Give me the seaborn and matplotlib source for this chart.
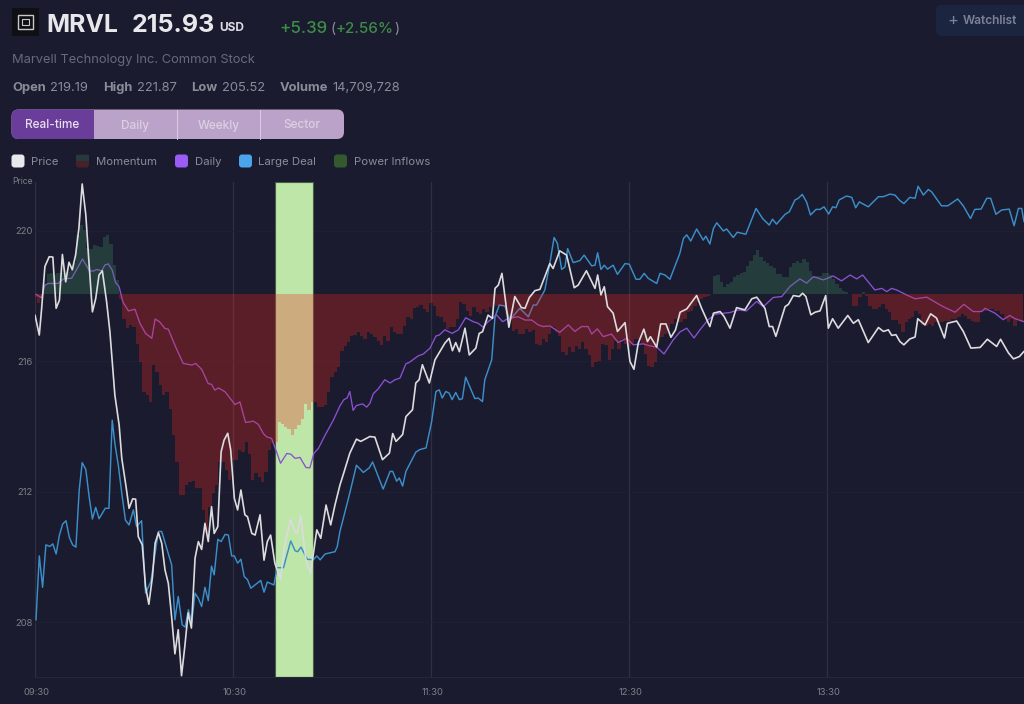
import matplotlib
matplotlib.use("Agg")
import matplotlib.pyplot as plt
from matplotlib.patches import FancyBboxPatch, Rectangle
from matplotlib.transforms import ScaledTranslation
import numpy as np
import pandas as pd
import seaborn as sns

# ---------- data ----------
price_t = [0,1.3,2,3,4.3,5.4,6.4,7.4,8.3,9.3,10.3,11.3,12.3,13.3,14.3,15.4,16.2,17.4,18.4,19.4,20.4,21.7,22.7,24.2,25.5,
26.3,27.6,28.5,29.6,30.5,31.3,32.5,33.5,34.5,35.6,36.4,37.4,38.4,39.4,40.4,41.4,42.4,43.4,44.4,45.4,46.4,47.4,48.5,49.5,50.5,51.5,52.5,53.5,54.3,55.4,56.4,57.3,58.4,59.3,60.4,61.4,62.4,63.6,64.4,65.7,66.7,68.2,69.4,70.4,71.4,72.7,74.4,75.8,77.4,78.8,79.5,80.5,82.1,83.5,85.4,86.6,88.2,89.6,90.9,92.4,
93.4,95.4,97.4,98.7,101.5,103,105.3,107.4,108.4,109.4,111.4,112.4,114.4,115.4,116.4,117.4,119.5,121.2,122.5,124.2,125.5,126.5,127.5,128.6,130.3,131.6,133.6,134.6,135.6,137.3,138.6,139.4,140.4,141.5,142.4,143.6,145.4,147.4,148.5,149.8,151.5,153,154.5,156,157,159,161.1,163.4,164.6,167.1,169.7,170.5,171.5,172.5,173.5,175.2,176.5,178.8,180.3,181.5,182.8,184.5,185.6,186.5,188.4,189.6,191.2,192.7,194.1,195.5,
197.5,200.5,202,204.5,205.6,207.6,208.8,210.6,212.6,215.1,217.2,218.7,221.2,222.5,223.5,224.5,227.3,228.3,229.8,231.6,232.6,233.6,235.1,236.4,237.9,239.6,240.4,241.7,243.4,246.3,248,249.5,252.5,253.8,255.6,257.1,258.6,259.6,260.9,262.1,263.3,265.1,266.7,267.5,269.7,271.4,273.2,275.6,276.5,279.3,281.3,283.6,286.4,288.6,291.4,292.6,295,296.5,298.3,299.7]
price_v = [217.41,216.8,217.6,218.9,219.2,219.19,217.62,217.87,219.27,218.43,219.03,218.8,219.25,220.07,221.43,220.48,219.25,217.51,217.92,218.64,218.77,217.82,216.9,214.96,214.04,
213.02,212.15,211.49,211.78,211.77,210.62,210.37,209.09,208.55,209.4,210.42,210.74,210.42,209.6,209.19,208.17,207.03,207.77,206.36,207.26,208.28,207.82,209.96,210.47,210.23,211.03,210.47,211.54,210.72,210.93,213.22,213.58,213.79,213.28,211.8,211.44,212.05,211.29,211.23,210.72,210.67,211.29,209.9,210.47,210.67,209.8,209.32,210.43,211.15,210.78,210.74,211.26,209.91,209.5,210.83,210.57,211.59,210.98,211.59,212.2,
212.52,213.18,213.61,213.54,213.69,213.67,212.98,213.18,213.78,213.54,213.75,214.3,214.51,215.33,215.43,215.89,215.33,216.04,216.26,216.55,216.7,216.32,216.57,216.29,217.01,216.19,216.4,216.85,216.9,217.41,217.31,218.23,218.33,218.69,217.98,217.04,217.98,217.64,217.62,217.95,218.16,218.2,218.59,218.99,218.84,219.38,219.25,218.25,218.33,218.77,218.23,218.64,218.03,218.28,217.67,217.47,216.91,217.18,215.99,215.75,216.55,216.98,216.6,216.75,216.43,217.14,217.14,216.73,216.96,217.5,
217.6,218.01,217.62,217.06,217.47,217.52,217.37,217.01,217.64,217.57,217.91,217.96,217.62,217.06,217.06,216.76,217.67,217.74,218.01,217.98,218.08,217.98,217.42,217.5,217.54,218.01,217.01,217.3,217.01,217.4,217.16,217.27,216.57,216.76,217.03,216.91,216.96,216.79,216.81,216.6,216.5,216.68,216.74,217.3,217.11,217.45,217.32,216.71,217.16,217.23,216.91,216.4,216.42,216.67,216.45,216.67,216.25,216.07,216.14,216.3]

deal_t = [0.3,1.3,2.3,3.3,4.5,5.4,6.4,7.4,8.4,9.4,10.4,11.4,12.4,13.4,14.3,15.4,16.4,17.4,18.4,19.4,21.3,22.4,23.4,24.2,25.3,26.3,27.4,28.5,29.8,30.8,32.3,33.5,35.1,37.4,38.4,41.4,42.4,43.4,44.6,45.5,46.5,47.5,48.5,49.5,50.5,51.5,52.5,53.5,54.3,55.4,56.4,57.6,58.6,59.6,60.4,61.4,62.4,63.4,64.4,65.4,68.4,69.4,70.4,72.4,73.4,75.3,77.5,78.8,79.6,80.6,82.5,84.3,85.4,86.4,87.9,90.9,91.6,92.4,
94.9,95.9,97.4,99.5,101.3,102.3,105.5,107.6,108.4,109.6,110.4,111.4,112.4,115.4,116.6,118.5,120.2,121.5,122.5,123.4,124.5,125.5,126.4,127.5,128.6,129.5,130.5,133.3,134.3,135.6,136.3,138.4,139.4,140.7,142.4,143.9,146.9,149.5,151,152,154.5,156,157.3,158.3,159.6,160.6,161.4,163.1,165.1,166.4,168.7,169.7,170.5,171.5,172.5,173.5,175.2,176.5,178.8,180.1,182.1,183.3,184.6,185.8,188.4,189.4,190.9,192.4,195.4,
196.5,197.5,198.7,200.5,202.5,203.3,204.5,205.6,206.6,208.6,209.6,211.6,212.8,215.4,218.5,220.5,222.5,223.5,224.7,227.3,228.6,230.3,231.3,232.5,233.8,235,236.7,237.9,239.1,240.5,241.7,242.7,243.7,245.9,247.5,248.7,249.8,252.5,255.6,257.1,259.1,260.6,262.1,263.3,265.1,266.7,267.6,269.2,270.7,271.7,274.7,276.6,279.6,281.3,283.5,284.8,286.7,288.4,289.6,291.2,292.9,295.2,296.7,298,299,299.7]
deal_v = [208.07,210.03,209.07,210.37,210.32,210.4,210.09,210.67,211.01,211.11,210.6,210.37,210.3,212.05,212.89,212.68,211.85,211.16,211.52,211.17,211.49,211.49,214.19,213.48,212.77,211.95,211.13,210.98,211.44,210.93,211.11,208.89,209.24,210.78,210.78,209.76,208.07,208.79,207.92,207.85,208.38,208.0,208.89,208.73,208.48,209.07,208.66,209.72,209.45,210.54,210.47,210.69,210.67,210.03,210.03,209.81,209.93,209.4,209.3,209.04,209.28,208.92,209.23,209.14,209.67,209.67,210.49,210.19,210.16,210.3,209.93,209.91,210.03,209.91,210.09,210.16,210.32,210.78,
211.76,212.17,212.81,212.59,212.73,212.91,212.08,212.62,212.62,212.32,212.42,212.17,212.62,213.21,213.29,213.34,214.15,215.07,215.12,214.87,215.07,215.02,214.82,215.04,214.82,214.85,215.51,214.85,214.87,214.76,215.43,216.04,217.36,217.72,217.69,217.26,217.62,217.36,217.72,217.72,218.18,218.99,219.79,219.61,218.81,218.89,219.45,219.02,219.08,219.25,218.92,218.94,219.32,218.81,218.94,218.82,218.94,218.66,218.99,218.97,218.51,218.51,218.69,218.54,218.38,218.69,218.64,218.51,219.3,
219.76,219.87,219.68,220.05,219.71,219.83,219.59,220.07,220.24,219.99,220.05,219.79,219.95,219.89,220.68,220.37,220.17,220.35,220.2,220.5,220.58,220.94,220.99,221.11,220.88,220.48,220.65,220.65,220.73,220.51,220.73,220.7,220.94,221.06,221.02,220.7,220.88,220.73,221.04,221.04,221.12,221.09,220.92,220.83,221.02,220.99,221.36,221.09,221.26,221.19,220.76,220.76,220.97,220.76,220.37,220.65,220.66,220.99,220.99,220.5,220.63,220.66,220.15,220.68,220.68,220.27]

daily_t = [0.3,2,3,4,7,8.6,11.1,13.1,14.4,16.5,17.7,18.7,20.2,21.2,22.2,23.4,24.4,25.5,26.6,28.3,30.3,31.8,33.5,35.4,36.4,37.7,39.4,40.4,42.6,44.9,47.5,48.7,50.5,52.5,53.5,54.5,55.6,57.6,60.6,62.1,63.8,66.2,67.7,69.2,70.2,71.7,73.2,74.4,76.3,77.5,78.8,80.3,82.1,83.3,84.5,85.9,87.9,90.4,92.4,
93.6,94.6,95.4,96.4,97.4,99.3,100.5,101.5,102.5,104,106,107.6,109.1,110.6,112.4,113.4,116.1,117.7,119.7,121.5,122.5,124.2,126.4,128.3,130.5,132.8,134.3,135.8,137.3,139.9,141.7,143.4,146.4,148.5,150.5,152.5,154,156,159,161.6,163.6,165.6,167.6,168.7,170.4,172.2,174.7,176.7,179.3,181.3,184.3,186.3,188.4,190.6,193.4,195.5,
197.5,199.7,201.5,204,206.1,210.6,213.1,215.6,218.7,220.7,223.7,226.3,228.8,231.8,233.8,235.9,238.9,241.9,244.4,247,249,250.8,254.5,256.6,258.1,259.6,261.1,264.1,266.7,270.2,275.2,278.8,281.5,284.3,286.9,287.9,290.9,293.4,295.4,297,299.7]
daily_v = [218.05,217.94,218.33,218.38,218.38,218.52,218.54,218.9,219.13,218.77,218.76,218.81,218.77,218.95,218.98,218.79,218.41,218.28,217.82,217.54,217.59,217.16,216.85,216.7,217.29,217.21,217.0,216.98,216.44,215.93,215.88,215.93,215.75,215.31,215.29,215.11,215.18,215.06,214.67,214.75,214.12,214.16,214.06,213.78,213.68,213.63,213.22,212.87,213.17,213.15,213.02,213.05,212.74,212.73,213.17,213.33,213.73,214.19,214.63,
214.82,214.87,215.07,214.49,214.64,214.69,214.59,214.71,215.0,215.15,215.43,215.33,215.43,215.48,215.92,215.96,216.16,216.22,216.4,216.77,216.8,216.96,216.85,216.96,217.33,217.21,217.16,217.04,217.21,217.41,217.21,217.31,217.36,217.26,217.26,217.11,217.06,217.08,216.88,217.11,216.91,217.06,217.06,216.83,216.99,216.75,216.83,216.57,216.7,216.5,216.53,216.47,216.43,216.22,216.65,216.9,
217.01,216.71,216.96,217.27,217.44,217.49,217.57,217.54,217.83,217.67,217.95,217.98,218.29,218.52,218.39,218.59,218.49,218.61,218.46,218.64,218.52,218.64,218.18,218.23,218.13,218.23,218.18,218.03,217.91,217.96,217.67,217.5,217.74,217.52,217.52,217.62,217.47,217.27,217.4,217.3,217.21]

momentum = [-3,-9,-4,10,20,21,19,21,21,21,
22,24,31,59,69,64,46,45,49,48,
47,57,59,50,29,14,-5,-25,-34,-31,
-33,-50,-68,-98,-101,-108,-71,-78,-91,-101,
-98,-115,-141,-168,-201,-201,-191,-188,-187,-194,
-194,-216,-239,-213,-199,-191,-168,-168,-176,-186,
-166,-166,-156,-158,-148,-160,-186,-179,-183,-188,
-178,-156,-149,-148,-128,-130,-133,-135,-141,-135,
-131,-125,-110,-116,-108,-108,-113,-113,-111,-98,
-83,-78,-73,-57,-52,-48,-42,-41,-38,-42,
-45,-38,-40,-43,-47,-51,-42,-47,-33,-38,
-40,-40,-32,-23,-25,-14,-13,-11,-15,-18,
-9,-12,-22,-23,-28,-35,-33,-33,-25,-8,
-10,-17,-22,-13,-18,-20,-15,-18,-13,-10,
-12,-12,-12,-20,-27,-37,-35,-40,-40,-35,
-38,-36,-50,-51,-45,-48,-40,-33,-38,-42,
-58,-61,-53,-58,-52,-55,-48,-55,-61,-73,
-68,-67,-50,-51,-66,-55,-47,-55,-45,-50,
-52,-50,-45,-45,-50,-60,-72,-73,-68,-47,
-43,-40,-36,-30,-25,-28,-28,-25,-18,-17,
-12,-8,-5,-3,-2,0,18,19,12,7,
10,12,17,19,21,22,28,33,39,44,
37,33,31,28,26,20,20,17,17,27,
31,33,31,35,32,23,17,18,18,21,
21,19,15,10,6,3,2,0,-12,-12,
-3,2,-2,-12,-15,-15,-13,-10,-15,-18,
-26,-26,-30,-38,-28,-25,-23,-17,-20,-31,
-32,-30,-32,-28,-28,-28,-27,-27,-25,-25,
-23,-20,-22,-25,-27,-28,-28,-17,-17,-15,
-15,-17,-17,-20,-25,-28,-25,-32,-25,-28]

x_ticks = [0, 60, 120, 180, 240]
x_labels = ["09:30", "10:30", "11:30", "12:30", "13:30"]
y_ticks = [208, 212, 216, 220]
highlight_span = (72.7, 84.2)
legend_names = ["Price", "Momentum", "Daily", "Large Deal", "Power Inflows"]

# ---------- style ----------
BG = "#1a1b2e"
sns.set_theme(style="dark", rc={"figure.facecolor": BG, "axes.facecolor": BG})
plt.rcParams["font.family"] = ["Inter", "DejaVu Sans"]

fig = plt.figure(figsize=(10.24, 7.04), dpi=100, facecolor=BG)

# header layer in pixel coordinates
hdr = fig.add_axes([0, 0, 1, 1], zorder=0)
hdr.set_xlim(0, 1024); hdr.set_ylim(704, 0); hdr.axis("off")

def label(x, y, s, size, color, weight="normal", ha="left"):
    hdr.text(x, y, s, fontsize=size, color=color, fontweight=weight, ha=ha, va="baseline")

def rrect(x0, y0, x1, y1, color, r=3):
    p = FancyBboxPatch((x0 + r, y0 + r), x1 - x0 - 2 * r, y1 - y0 - 2 * r,
                       boxstyle=f"round,pad={r},rounding_size={r}", fc=color, ec="none")
    hdr.add_patch(p)
    return p

# logo
hdr.add_patch(Rectangle((12, 8), 27, 28, fc="#0e1013", ec="none"))
hdr.add_patch(Rectangle((18, 15), 15, 14, fc="none", ec="#c8c8c8", lw=1.0))
hdr.add_patch(Rectangle((22, 19), 7, 6, fc="none", ec="#c8c8c8", lw=0.8))

label(46, 31.7, "MRVL", 17.9, "#e8e8ec", "bold")
label(132, 31.7, "215.93", 18, "#e8e8ec", "bold")
label(219, 30.7, "USD", 8.6, "#dcdce2", "bold")
label(279, 33, "+5.39", 12.2, "#3c8e46", "medium")
label(331, 33, "(", 10, "#8c8e9a")
label(336, 33, "+2.56%", 10.9, "#3c8e46", "medium")
label(394, 33, ")", 10, "#8c8e9a")
label(12, 63, "Marvell Technology Inc. Common Stock", 9.3, "#676a78")
for x, s, w in [(12, "Open", "bold"), (50, "219.19", "normal"), (103, "High", "bold"),
                (137, "221.87", "normal"), (191, "Low", "bold"), (222, "205.52", "normal"),
                (280, "Volume", "bold"), (332, "14,709,728", "normal")]:
    label(x, 91, s, 9.3, "#8a8c98", w)

# segmented control
rrect(11.5, 109.5, 344, 139, "#baa2c8", r=7)
rrect(11.5, 109.5, 94, 139, "#6a3d9a", r=7)
hdr.add_patch(Rectangle((80, 109.5), 14, 29.5, fc="#6a3d9a", ec="none"))
for xd in (177, 260):
    hdr.plot([xd, xd], [109.5, 139], color="#d8c8e0", lw=0.8)
for xc, s, c in [(52.5, "Real-time", "#e8e0f0"), (135.5, "Daily", "#dcd0e4"),
                 (219, "Weekly", "#dcd0e4"), (302, "Sector", "#dcd0e4")]:
    label(xc, 128.5, s, 8.5, c, "medium", ha="center")

# legend
for (x0, xt, col), name in zip([(11.5, 31, "#e8e9ec"), (76, 96, None), (175, 195, "#9a5cf5"),
                                (239, 258.5, "#4aa5ec"), (334, 354, "#35592f")], legend_names):
    if col is None:
        rrect(x0, 154.5, x0 + 13, 167.5, "#4a2028")
        hdr.add_patch(Rectangle((x0, 154.5), 13, 6.5, fc="#243a3f", ec="none"))
    else:
        rrect(x0, 154.5, x0 + 13, 167.5, col)
    label(xt, 165, name, 8.2, "#8a8c98")

# watchlist button
rrect(936, 5, 1030, 36, "#1c2540", r=5)
label(947, 25, "+", 12, "#7d8296")
label(963, 24, "Watchlist", 8.6, "#7d8296", "semibold")

# chart axes
ax = fig.add_axes([35 / 1024, 1 - 677 / 704, 989 / 1024, 495 / 704], zorder=1)
ax.set_facecolor(BG)
ax.axvspan(*highlight_span, facecolor="#bde6a8", edgecolor="#4a5a48", lw=0.8, zorder=1)

for t, v, c, lw in [(deal_t, deal_v, "#3b8ec9", 1.05), (daily_t, daily_v, "#8c50d4", 0.95)]:
    sns.lineplot(x=t, y=v, color=c, lw=lw, ax=ax, estimator=None, sort=False, zorder=3)

ax.set_xlim(0, 299.7)
ax.set_ylim(206.32, 221.49)
ax.set_xticks(x_ticks, x_labels)
ax.set_yticks(y_ticks)
ax.set_xlabel(""); ax.set_ylabel("")
ax.grid(False)
for xt in x_ticks:
    ax.axvline(xt, color="#2f3142", lw=0.9, zorder=0.5)
for yt in y_ticks:
    ax.axhline(yt, color="#1f2033", lw=0.6, zorder=0.5)
ax.tick_params(axis="both", length=0, labelsize=6.8, labelcolor="#7d7f88", pad=1.5)
ax.tick_params(axis="x", pad=8)
for s in ("top", "right", "left"):
    ax.spines[s].set_visible(False)
ax.spines["bottom"].set_color("#26283a")
ax.spines["bottom"].set_linewidth(0.8)
ax.text(-0.002, 1.0, "Price", transform=ax.transAxes, ha="right", va="center",
        fontsize=6.2, color="#7d7f88")

# momentum bars on their own scale, above the Daily and Large Deal lines
ax2 = ax.twinx()
ax2.patch.set_alpha(0)
df = pd.DataFrame({"minute": np.arange(len(momentum)), "momentum": momentum})
sns.barplot(data=df[df.momentum >= 0], x="minute", y="momentum", native_scale=True, orient="x",
            color="#3f895d", saturation=1, alpha=0.3, width=1.0, errorbar=None, linewidth=0, ax=ax2)
sns.barplot(data=df[df.momentum < 0], x="minute", y="momentum", native_scale=True, orient="x",
            color="#f02820", saturation=1, alpha=0.3, width=1.0, errorbar=None, linewidth=0, ax=ax2)
ax2.set_xlim(0, 299.7)
ax2.set_ylim(-383.3, 111.7)
ax2.set_xlabel(""); ax2.set_ylabel("")
ax2.set_yticks([])
ax2.grid(False)
for s in ax2.spines.values():
    s.set_visible(False)

# price line on top of the bars
ax3 = ax.twinx()
ax3.patch.set_alpha(0)
sns.lineplot(x=price_t, y=price_v, color="#dcdcdf", lw=1.2, ax=ax3, estimator=None, sort=False)
ax3.set_xlim(0, 299.7)
ax3.set_ylim(206.32, 221.49)
ax3.set_xlabel(""); ax3.set_ylabel("")
ax3.set_yticks([])
ax3.grid(False)
for s in ax3.spines.values():
    s.set_visible(False)

ax.set_xticks(x_ticks, x_labels)
shift = ScaledTranslation(1.5 / 100, 0, fig.dpi_scale_trans)
for lab in ax.get_xticklabels():
    lab.set_transform(lab.get_transform() + shift)

fig.savefig("out.png", dpi=100, facecolor=BG)
